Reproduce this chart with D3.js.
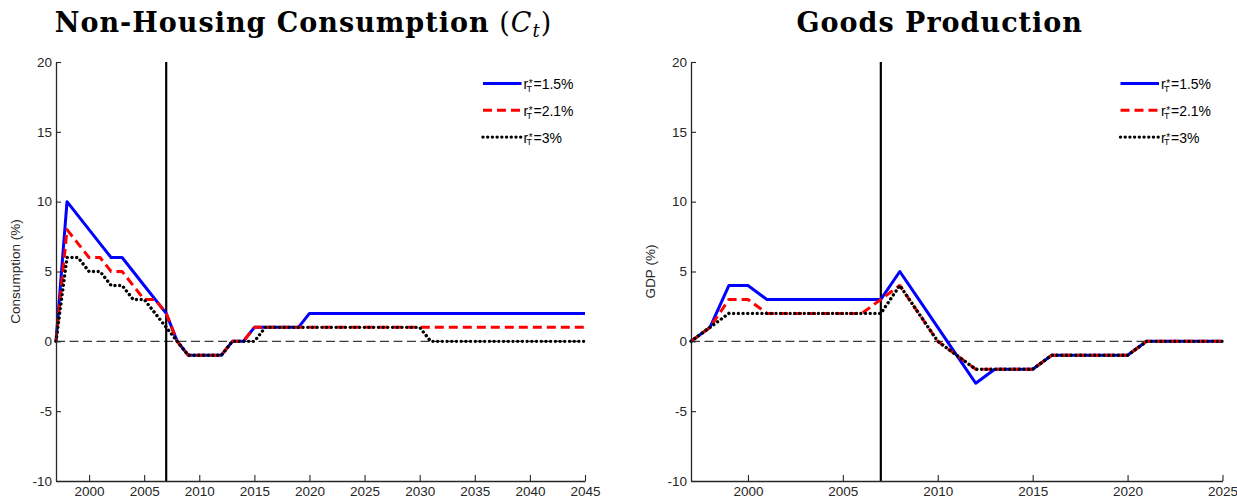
<!DOCTYPE html>
<html>
<head>
<meta charset="utf-8">
<script src="https://cdn.jsdelivr.net/npm/d3@7"></script>
<style>
  html, body { margin: 0; padding: 0; background: #fff; }
  svg { display: block; }
  .tick text { font-family: "Liberation Sans", Arial, sans-serif; font-size: 13.5px; fill: #262626; }
</style>
</head>
<body>
<svg id="chart" width="1237" height="499"></svg>
<script>
// ---- Data ----------------------------------------------------------------
const consumptionYears = [1997,1998,1999,2000,2001,2002,2003,2004,2005,2006,2007,2008,2009,2010,2011,2012,
  2013,2014,2015,2016,2017,2018,2019,2020,2021,2022,2023,2024,2025,2026,2027,2028,2029,2030,2031,2032,
  2033,2034,2035,2036,2037,2038,2039,2040,2041,2042,2043,2044,2045];
const consumptionR15 = [0,10,9,8,7,6,6,5,4,3,2,0,-1,-1,-1,-1,0,0,1,1,1,1,1,
  2,2,2,2,2,2,2,2,2,2,2,2,2,2,2,2,2,2,2,2,2,2,2,2,2,2];
const consumptionR21 = [0,8,7,6,6,5,5,4,3,3,2,0,-1,-1,-1,-1,0,0,
  1,1,1,1,1,1,1,1,1,1,1,1,1,1,1,1,1,1,1,1,1,1,1,1,1,1,1,1,1,1,1];
const consumptionR30 = [0,6,6,5,5,4,4,3,3,2,1,0,-1,-1,-1,-1,0,0,0,
  1,1,1,1,1,1,1,1,1,1,1,1,1,1,1,
  0,0,0,0,0,0,0,0,0,0,0,0,0,0,0];

const gdpYears = [1997,1998,1999,2000,2001,2002,2003,2004,2005,2006,2007,2008,2009,2010,2011,2012,
  2013,2014,2015,2016,2017,2018,2019,2020,2021,2022,2023,2024,2025];
const gdpR15 = [0,1,4,4,3,3,3,3,3,3,3,5,3,1,-1,-3,-2,-2,-2,-1,-1,-1,-1,-1,0,0,0,0,0];
const gdpR21 = [0,1,3,3,2,2,2,2,2,2,3,4,2,0,-1,-2,-2,-2,-2,-1,-1,-1,-1,-1,0,0,0,0,0];
const gdpR30 = [0,1,2,2,2,2,2,2,2,2,2,4,2,0,-1,-2,-2,-2,-2,-1,-1,-1,-1,-1,0,0,0,0,0];

const legendLabels = ["=1.5%", "=2.1%", "=3%"];
const yTicks = [-10, -5, 0, 5, 10, 15, 20];
const consumptionXTicks = [2000,2005,2010,2015,2020,2025,2030,2035,2040,2045];
const gdpXTicks = [2000,2005,2010,2015,2020,2025];
const breakYear = 2007;

// ---- Styles for the three scenarios ---------------------------------------
const seriesStyles = [
  { color: "#0000ff", dash: null,        cap: "butt",  width: 3 },
  { color: "#ff0000", dash: "9 5",       cap: "butt",  width: 3 },
  { color: "#000000", dash: "0.01 4.7",  cap: "round", width: 3.4 }
];

const svg = d3.select("#chart");

function drawPanel(cfg) {
  const x = d3.scaleLinear().domain([cfg.years[0], cfg.years[cfg.years.length - 1]])
    .range([cfg.left, cfg.right]);
  const y = d3.scaleLinear().domain([-10, 20]).range([cfg.bottom, cfg.top]);
  const g = svg.append("g");

  // zero reference line
  g.append("line")
    .attr("x1", x.range()[0]).attr("x2", x.range()[1])
    .attr("y1", y(0)).attr("y2", y(0))
    .attr("stroke", "#3a3a3a").attr("stroke-width", 1.3)
    .attr("stroke-dasharray", "9 4.5");

  // vertical marker
  g.append("line")
    .attr("x1", x(breakYear)).attr("x2", x(breakYear))
    .attr("y1", y(-10)).attr("y2", y(20))
    .attr("stroke", "#000").attr("stroke-width", 2.2);

  // series
  const line = d3.line().x((d, i) => x(cfg.years[i])).y(d => y(d));
  cfg.series.forEach((vals, k) => {
    const s = seriesStyles[k];
    g.append("path")
      .datum(vals)
      .attr("d", line)
      .attr("fill", "none")
      .attr("stroke", s.color)
      .attr("stroke-width", s.width)
      .attr("stroke-linecap", s.cap)
      .attr("stroke-linejoin", "round")
      .attr("stroke-dasharray", s.dash);
  });

  // axes
  const xAxis = d3.axisBottom(x).tickValues(cfg.xTicks)
    .tickSizeInner(-6).tickSizeOuter(0).tickPadding(5)
    .tickFormat(d => String(d));
  const gx = g.append("g").attr("transform", `translate(0,${cfg.bottom})`).call(xAxis);
  const yAxis = d3.axisLeft(y).tickValues(yTicks)
    .tickSizeInner(-5).tickSizeOuter(0).tickPadding(4)
    .tickFormat(d => String(d));
  const gy = g.append("g").attr("transform", `translate(${cfg.left},0)`).call(yAxis);
  [gx, gy].forEach(a => {
    a.select(".domain").attr("stroke", "#262626").attr("stroke-width", 1.3);
    a.selectAll(".tick line").attr("stroke", "#262626").attr("stroke-width", 1.1);
  });

  // y label
  g.append("text")
    .attr("transform", `translate(${cfg.left - 41},${(cfg.top + cfg.bottom) / 2}) rotate(-90)`)
    .attr("text-anchor", "middle")
    .attr("dy", "0.35em")
    .attr("font-family", "Liberation Sans, Arial, sans-serif")
    .attr("font-size", 13.5)
    .attr("fill", "#262626")
    .text(cfg.yLabel);

  // title
  const title = g.append("text")
    .attr("x", (cfg.left + cfg.right) / 2 - 17)
    .attr("y", 32)
    .attr("text-anchor", "middle")
    .attr("font-family", "DejaVu Serif, serif")
    .attr("font-size", 27)
    .attr("letter-spacing", 1)
    .attr("font-weight", "bold")
    .attr("fill", "#000");
  title.append("tspan").text(cfg.title);
  if (cfg.mathSymbol) {
    title.append("tspan").attr("font-weight", "normal").text(" (");
    title.append("tspan").attr("font-weight", "normal").attr("font-style", "italic").text(cfg.mathSymbol);
    title.append("tspan").attr("font-weight", "normal").attr("font-style", "italic")
      .attr("font-size", 18).attr("dy", 5).text(cfg.mathSub);
    title.append("tspan").attr("font-weight", "normal").attr("dy", -5).text(")");
  }

  // legend
  const lx = cfg.right - 102;
  const font = "Liberation Sans, Arial, sans-serif";
  legendLabels.forEach((lab, k) => {
    const s = seriesStyles[k];
    const ly = cfg.top + 21.5 + k * 26.8;
    g.append("line")
      .attr("x1", lx).attr("x2", lx + 38.5)
      .attr("y1", ly).attr("y2", ly)
      .attr("stroke", s.color).attr("stroke-width", s.width)
      .attr("stroke-linecap", s.cap)
      .attr("stroke-dasharray", s.dash);
    const t = g.append("text").attr("x", lx + 40.5).attr("y", ly + 5.5)
      .attr("font-family", font).attr("font-size", 14).attr("fill", "#000");
    t.append("tspan").text("r");
    t.append("tspan").attr("font-size", 10).attr("dx", 0.5).attr("dy", -2).text("*");
    t.append("tspan").attr("font-size", 9).attr("dx", -6).attr("dy", 4.8).text("T");
    t.append("tspan").attr("font-size", 14).attr("dx", 1.4).attr("dy", -2.8).text(lab);
  });
}

drawPanel({
  years: consumptionYears,
  series: [consumptionR15, consumptionR21, consumptionR30],
  xTicks: consumptionXTicks,
  left: 56, right: 585, top: 62, bottom: 481,
  yLabel: "Consumption (%)",
  title: "Non-Housing Consumption",
  mathSymbol: "C", mathSub: "t"
});

drawPanel({
  years: gdpYears,
  series: [gdpR15, gdpR21, gdpR30],
  xTicks: gdpXTicks,
  left: 691, right: 1222.5, top: 62, bottom: 481,
  yLabel: "GDP (%)",
  title: "Goods Production"
});
</script>
</body>
</html>
